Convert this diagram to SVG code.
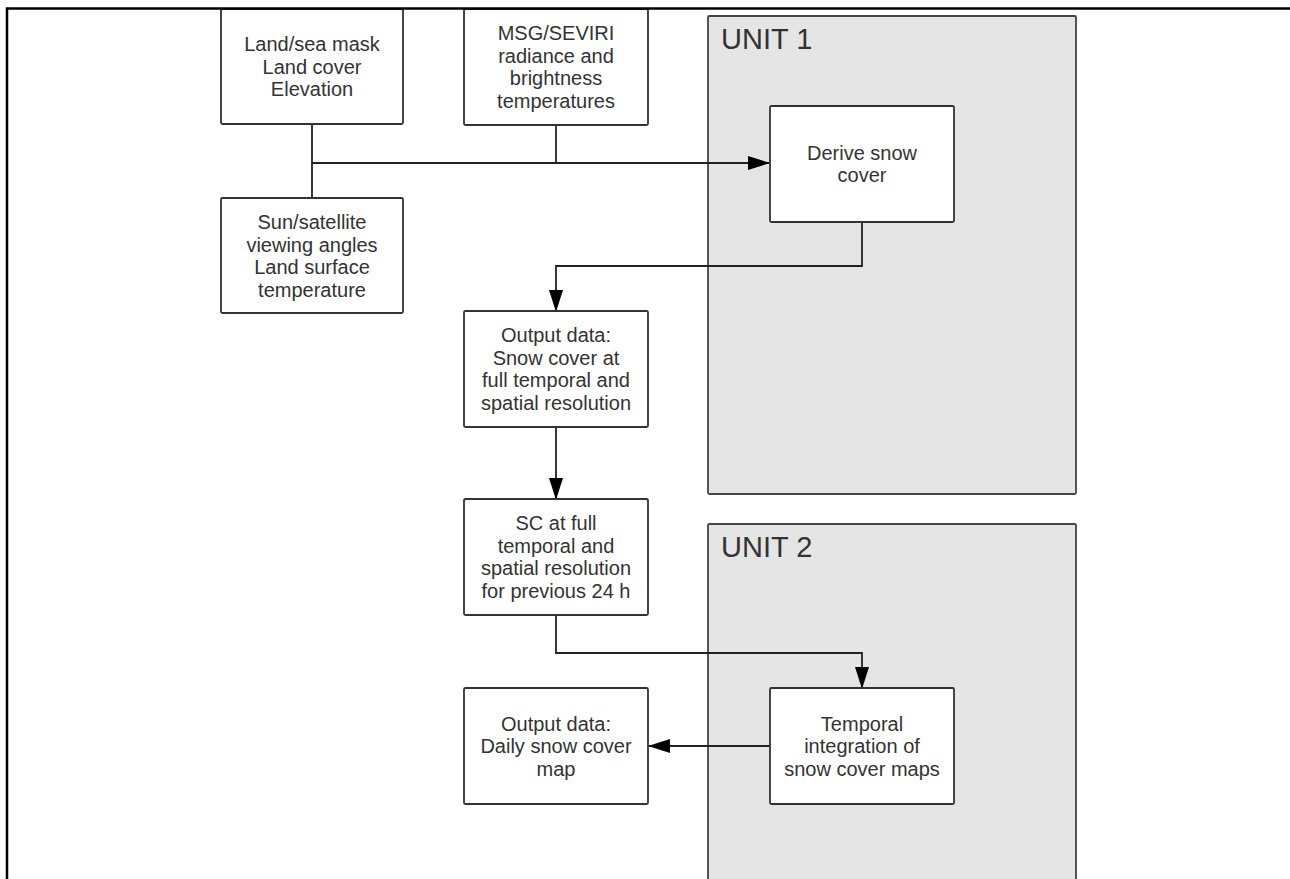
<svg xmlns="http://www.w3.org/2000/svg" width="1290" height="879" viewBox="0 0 1290 879">
  <style>
    .unit { fill: #e5e5e5; stroke: #444; stroke-width: 1.8; }
    .box { fill: #ffffff; stroke: #333; stroke-width: 1.8; }
    .lbl { font-family: "Liberation Sans", Arial, sans-serif; font-size: 20px; fill: #333; text-anchor: middle; }
    .ulbl { font-family: "Liberation Sans", Arial, sans-serif; font-size: 29px; fill: #333; }
    .con { fill: none; stroke: #222; stroke-width: 1.8; }
    .frame { stroke: #000; stroke-width: 2.5; fill: none; }
  </style>
  <defs>
    <marker id="arrow" markerUnits="userSpaceOnUse" markerWidth="22" markerHeight="14" viewBox="0 0 22 14" refX="21" refY="7" orient="auto">
      <path d="M0,0 L22,7 L0,14 z" fill="#000"/>
    </marker>
  </defs>
  <rect width="1290" height="879" fill="#ffffff"/>

  <g id="unit1">
    <rect class="unit" x="708" y="16" width="368" height="478" rx="1.5"/>
    <text class="ulbl" x="721" y="49">UNIT 1</text>
  </g>
  <g id="unit2">
    <rect class="unit" x="708" y="524" width="368" height="380" rx="1.5"/>
    <text class="ulbl" x="721" y="557">UNIT 2</text>
  </g>

  <g id="connectors">
    <path class="con" d="M312 124 V198"/>
    <path class="con" d="M556 125 V163"/>
    <path class="con" d="M312 163 H769" marker-end="url(#arrow)"/>
    <path class="con" d="M862 222 V266 H556 V311" marker-end="url(#arrow)"/>
    <path class="con" d="M556 427 V499" marker-end="url(#arrow)"/>
    <path class="con" d="M556 615 V653 H862 V688" marker-end="url(#arrow)"/>
    <path class="con" d="M770 746 H649" marker-end="url(#arrow)"/>
  </g>

  <g id="node-landsea">
    <rect class="box" x="221" y="9" width="182" height="115" rx="1.5"/>
    <text class="lbl" x="312" y="51">Land/sea mask</text>
    <text class="lbl" x="312" y="73.5">Land cover</text>
    <text class="lbl" x="312" y="96">Elevation</text>
  </g>
  <g id="node-msg">
    <rect class="box" x="464" y="9" width="184" height="116" rx="1.5"/>
    <text class="lbl" x="556" y="40">MSG/SEVIRI</text>
    <text class="lbl" x="556" y="62.5">radiance and</text>
    <text class="lbl" x="556" y="85">brightness</text>
    <text class="lbl" x="556" y="107.5">temperatures</text>
  </g>
  <g id="node-sun">
    <rect class="box" x="221" y="198" width="182" height="115" rx="1.5"/>
    <text class="lbl" x="312" y="229">Sun/satellite</text>
    <text class="lbl" x="312" y="251.5">viewing angles</text>
    <text class="lbl" x="312" y="274">Land surface</text>
    <text class="lbl" x="312" y="296.5">temperature</text>
  </g>
  <g id="node-derive">
    <rect class="box" x="770" y="106" width="184" height="116" rx="1.5"/>
    <text class="lbl" x="862" y="159.75">Derive snow</text>
    <text class="lbl" x="862" y="182.25">cover</text>
  </g>
  <g id="node-output1">
    <rect class="box" x="464" y="311" width="184" height="116" rx="1.5"/>
    <text class="lbl" x="556" y="342.25">Output data:</text>
    <text class="lbl" x="556" y="364.75">Snow cover at</text>
    <text class="lbl" x="556" y="387.25">full temporal and</text>
    <text class="lbl" x="556" y="409.75">spatial resolution</text>
  </g>
  <g id="node-sc">
    <rect class="box" x="464" y="499" width="184" height="116" rx="1.5"/>
    <text class="lbl" x="556" y="530.25">SC at full</text>
    <text class="lbl" x="556" y="552.75">temporal and</text>
    <text class="lbl" x="556" y="575.25">spatial resolution</text>
    <text class="lbl" x="556" y="597.75">for previous 24 h</text>
  </g>
  <g id="node-daily">
    <rect class="box" x="464" y="688" width="184" height="116" rx="1.5"/>
    <text class="lbl" x="556" y="730.5">Output data:</text>
    <text class="lbl" x="556" y="753">Daily snow cover</text>
    <text class="lbl" x="556" y="775.5">map</text>
  </g>
  <g id="node-temporal">
    <rect class="box" x="770" y="688" width="184" height="116" rx="1.5"/>
    <text class="lbl" x="862" y="730.5">Temporal</text>
    <text class="lbl" x="862" y="753">integration of</text>
    <text class="lbl" x="862" y="775.5">snow cover maps</text>
  </g>

  <g id="frame">
    <path class="frame" d="M1290 8.5 H7 V879"/>
  </g>
</svg>
